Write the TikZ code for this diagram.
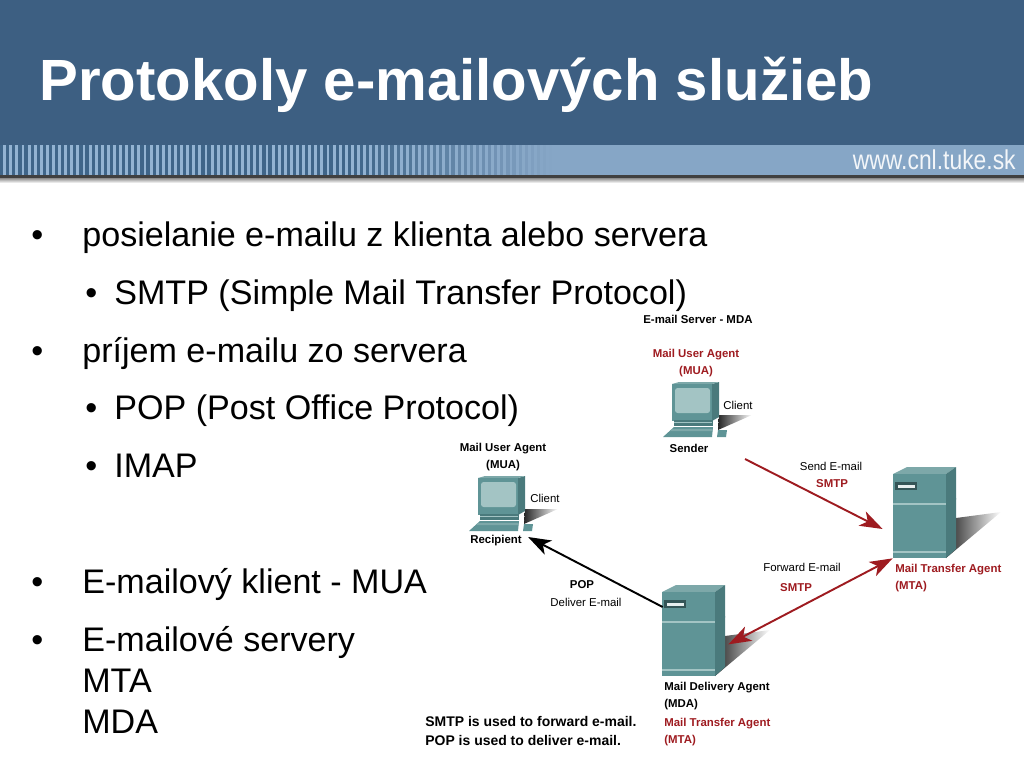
\documentclass[tikz,border=0pt]{standalone}
\usepackage{fontspec}
\usetikzlibrary{arrows.meta}
\setmainfont{Liberation Sans}
\newfontfamily\webfont[FakeStretch=0.84]{Liberation Sans}
\definecolor{bandblue}{HTML}{3D5F82}
\definecolor{stripblue}{HTML}{86A6C6}
\definecolor{stripdark}{HTML}{3F6589}
\definecolor{stripwhite}{HTML}{93B3D2}
\definecolor{mailred}{HTML}{9E1B20}
\definecolor{boxfront}{HTML}{5F9496}
\definecolor{boxside}{HTML}{4A7A7C}
\definecolor{boxtop}{HTML}{7DA8A9}
\definecolor{boxlight}{HTML}{A3C4C4}

\tikzset{%
        bigtitle/.style={
                anchor=base west,
                inner sep=0pt,
                text=white,
                font=\fontsize{33.1}{38}\selectfont\bfseries
            },
        bodytext/.style={
                anchor=base west,
                inner sep=0pt,
                font=\fontsize{19.4}{23}\selectfont
            },
        small/.style={
                inner sep=0pt,
                align=center,
                font=\fontsize{6.5}{9.7}\selectfont
            },
        smallbold/.style={
                small,
                font=\fontsize{6.5}{9.7}\selectfont\bfseries
            },
        redbold/.style={
                smallbold,
                text=mailred
            },
        mailarrow/.style={
                -{Stealth[length=13pt,width=9pt,inset=3.5pt]},
                line width=1.1pt
            },
        server/.pic={
                \shade[left color=black!85, right color=white, draw=none]
                    (53,84) -- (63,44) -- (108,38) -- cycle;
                \fill[boxtop] (0,0) -- (14,-7) -- (63,-7) -- (53,0) -- cycle;
                \fill[boxside] (53,0) -- (63,-7) -- (63,75) -- (53,84) -- cycle;
                \node[fill=boxfront, inner sep=0pt, minimum width=1.06cm, minimum height=1.68cm] (front) at (26.5,42) {};
                \fill[boxlight] (0,29) rectangle (53,31);
                \fill[boxlight] (0,77) rectangle (53,79);
                \fill[boxside] (53,31) -- (63,24) -- (63,25.5) -- (53,33) -- cycle;
                \fill[boxside!70!black] (2,8) rectangle (24,16);
                \fill[white!85!boxfront] (5,10.5) rectangle (22,13.5);
            },
        computer/.pic={
                \shade[left color=black!85, right color=white, draw=none]
                    (46,47) -- (47,32) -- (80,32) -- cycle;
                \fill[boxside] (40,1) -- (47,-1) -- (47,34) -- (40,38) -- cycle;
                \fill[boxtop] (0,1) -- (7,-1) -- (47,-1) -- (40,1) -- cycle;
                \node[fill=boxfront, inner sep=0pt, minimum width=0.8cm, minimum height=0.74cm] (front) at (20,19.5) {};
                \fill[boxlight, rounded corners=1.5pt] (3,5) rectangle (38,30);
                \fill[boxside] (2,37) rectangle (41,43);
                \fill[boxlight] (2,39) rectangle (40,40);
                \fill[boxfront] (2,44) -- (41,44) -- (40,54) -- (-9,54) -- cycle;
                \fill[boxtop] (0,46) -- (41,46) -- (40,48) -- (-2,48) -- cycle;
                \fill[boxfront] (46,47) -- (55,47) -- (54,54) -- (45,54) -- cycle;
            }
    }

\begin{document}
\begin{tikzpicture}[x=0.02cm,y=-0.02cm]
        \useasboundingbox (0,0) rectangle (1024,768);

    % header:
        \fill[bandblue] (0,0) rectangle (1024,145);
        \fill[stripblue] (0,145) rectangle (1024,175);
        \foreach \sx in {0,6.1,...,550} {
            \pgfmathsetmacro{\fadeval}{max(0,min(1,2.75-\sx/200))}
            \fill[stripdark, opacity=\fadeval] (\sx,145) rectangle +(3.2,30);
            \fill[stripwhite, opacity=\fadeval] (\sx+3.2,145) rectangle +(2.9,30);
        }
        \fill[black!75] (0,175) rectangle (1024,178);
        \shade[top color=black!45, bottom color=white] (0,178) rectangle (1024,183);
        \node [bigtitle]  (title) at (39,100) {Protokoly e-mailových služieb};
        \node [inner sep=0pt, anchor=east, text=white!90!stripblue, font=\fontsize{15.5}{18}\selectfont\webfont]  (web) at (1016,160) {www.cnl.tuke.sk};

    % bullets:
        \node [bodytext]  (b1) at (31,246) {•};
        \node [bodytext]  (t1) at (82,246) {posielanie e-mailu z klienta alebo servera};
        \node [bodytext]  (b2) at (85,304) {•};
        \node [bodytext]  (t2) at (114,304) {SMTP (Simple Mail Transfer Protocol)};
        \node [bodytext]  (b3) at (31,362) {•};
        \node [bodytext]  (t3) at (82,362) {príjem e-mailu zo servera};
        \node [bodytext]  (b4) at (85,419) {•};
        \node [bodytext]  (t4) at (114,419) {POP (Post Office Protocol)};
        \node [bodytext]  (b5) at (85,477) {•};
        \node [bodytext]  (t5) at (114,477) {IMAP};
        \node [bodytext]  (b6) at (31,593) {•};
        \node [bodytext]  (t6) at (82,593) {E-mailový klient - MUA};
        \node [bodytext]  (b7) at (31,651) {•};
        \node [bodytext]  (t7) at (82,651) {E-mailové servery};
        \node [bodytext]  (t8) at (82,692) {MTA};
        \node [bodytext]  (t9) at (82,733) {MDA};

    % figure:
        \pic (mta) at (893,474) {server};
        \pic (mda) at (662,592) {server};
        \pic (snd) at (672,383) {computer};
        \pic (rcv) at (478,477) {computer};

        \node [smallbold, anchor=west]  (head) at (643,319) {E-mail Server - MDA};
        \node [redbold]  (muared) at (696,363) {Mail User Agent\\(MUA)};
        \node [small]  (client1) at (738,405) {Client};
        \node [smallbold]  (sender) at (689,448) {Sender};
        \node [small]  (sendlab) at (831,466) {Send E-mail};
        \node [redbold]  (smtp1) at (832,484) {SMTP};
        \node [redbold, align=left, anchor=west]  (mtalab) at (895,578) {Mail Transfer Agent\\(MTA)};
        \node [small]  (fwdlab) at (802,567) {Forward E-mail};
        \node [redbold]  (smtp2) at (796,588) {SMTP};
        \node [smallbold]  (poplab) at (582,585) {POP};
        \node [small]  (dellab) at (586,602) {Deliver E-mail};
        \node [smallbold]  (muablack) at (503,457) {Mail User Agent\\(MUA)};
        \node [small]  (client2) at (545,498) {Client};
        \node [smallbold]  (recipient) at (496,541) {Recipient};
        \node [smallbold, align=left, anchor=west]  (mdalab) at (664,696) {Mail Delivery Agent\\(MDA)};
        \node [redbold, align=left, anchor=west]  (mtalab2) at (664,732) {Mail Transfer Agent\\(MTA)};
        \node [inner sep=0pt, align=left, anchor=west, font=\fontsize{7.95}{10.8}\selectfont\bfseries]  (note) at (425,731) {SMTP is used to forward e-mail.\\POP is used to deliver e-mail.};

        \coordinate (sendtail) at (745,459);

        \draw[mailarrow, mailred] (sendtail) -- ([shift={(-10,13)}]mtafront.west);
        \draw[mailarrow, mailred, {Stealth[length=13pt,width=9pt,inset=3.5pt]}-{Stealth[length=13pt,width=9pt,inset=3.5pt]}] (mtafront.south west) -- ([shift={(13,-32)}]mdafront.south east);
        \draw[mailarrow] ([shift={(1,-27)}]mdafront.west) -- ([shift={(6,-4)}]recipient.east);
    \end{tikzpicture}
\end{document}
